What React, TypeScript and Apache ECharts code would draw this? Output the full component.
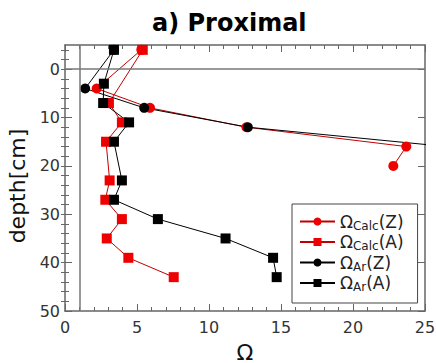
import React, { useEffect, useRef } from "react";
import * as echarts from "echarts";

const depthZ = [-4, 4, 8, 12, 16, 20];
const calcZ = [5.3, 2.2, 5.9, 12.6, 23.7, 22.8];
const arZ = [3.4, 1.4, 5.5, 12.7, 26.5, 26.0];

const depthCalcA = [-4, 7, 11, 15, 23, 27, 31, 35, 39, 43];
const calcA = [5.4, 3.05, 3.95, 2.85, 3.1, 2.8, 3.95, 2.9, 4.4, 7.55];

const depthArA = [-4, 3, 7, 11, 15, 23, 27, 31, 35, 39, 43];
const arA = [3.4, 2.7, 2.65, 4.45, 3.4, 3.95, 3.4, 6.45, 11.15, 14.45, 14.7];

const xTicks = [0, 5, 10, 15, 20, 25];
const yMajorTicks = [0, 10, 20, 30, 40, 50];
const yMinorTicks = [-4, -2, 0, 2, 4, 6, 8, 10, 12, 14, 16, 18, 20, 22, 24, 26, 28, 30, 32, 34, 36, 38, 40, 42, 44, 46, 48];

const names = ["ΩCalc(Z)", "ΩCalc(A)", "ΩAr(Z)", "ΩAr(A)"];

const FONT = "DejaVu Sans";
const FRAME = "#666";

const pairs = (xs: number[], ys: number[]) => xs.map((x, i) => [x, ys[i]]);

export default function App() {
  const ref = useRef<HTMLDivElement>(null);
  useEffect(() => {
    const chart = echarts.init(ref.current!, null, { renderer: "svg" });
    const yBase = {
      type: "value",
      min: -5,
      max: 50,
      inverse: true,
      splitLine: { show: false },
    };
    const xBase = {
      type: "value",
      min: xTicks[0],
      max: xTicks[xTicks.length - 1],
      interval: 5,
      splitLine: { show: false },
      axisLine: { onZero: false, lineStyle: { color: FRAME, width: 1.5 } },
      axisTick: { inside: true, length: 7, lineStyle: { color: FRAME } },
      minorTick: { show: true, splitNumber: 5, length: 4, lineStyle: { color: FRAME } },
    };
    const mk = (name: string, xs: number[], ys: number[], sym: string, color: string, lineColor: string, extra: any = {}) => ({
      type: "line",
      name,
      data: pairs(xs, ys),
      symbol: sym,
      symbolSize: 10,
      itemStyle: { color },
      lineStyle: { color: lineColor, width: 1 },
      clip: true,
      ...extra,
    });
    chart.setOption({
      animation: false,
      backgroundColor: "#fff",
      textStyle: { fontFamily: FONT },
      title: {
        text: "a) Proximal",
        left: 152,
        top: 11,
        padding: 0,
        textStyle: { fontFamily: FONT, fontSize: 24, fontWeight: "bold", color: "#000" },
      },
      grid: { left: 65, right: 11, top: 45, bottom: 52, outerBoundsMode: "none", containLabel: false },
      xAxis: [
        {
          ...xBase,
          position: "bottom",
          name: "Ω",
          nameLocation: "middle",
          nameGap: 31,
          nameTextStyle: { fontFamily: FONT, fontSize: 22, lineHeight: 20, color: "#111" },
          axisLabel: { fontFamily: FONT, fontSize: 16, color: "#333", margin: 8 },
        },
        {
          ...xBase,
          position: "top",
          axisLabel: { show: false },
        },
      ],
      yAxis: [
        {
          ...yBase,
          position: "left",
          name: "depth[cm]",
          nameLocation: "middle",
          nameGap: 32,
          nameTextStyle: { fontFamily: FONT, fontSize: 22, color: "#111", padding: [0, 16, 0, 0] },
          axisLine: { onZero: false, lineStyle: { color: FRAME, width: 1.5 } },
          axisTick: { inside: true, length: 7, customValues: yMajorTicks, lineStyle: { color: FRAME } },
          axisLabel: { customValues: yMajorTicks, fontFamily: FONT, fontSize: 16, color: "#333", margin: 5 },
        },
        {
          ...yBase,
          position: "left",
          axisLine: { show: false },
          axisTick: { inside: true, length: 4, customValues: yMinorTicks, lineStyle: { color: FRAME } },
          axisLabel: { show: false },
        },
        {
          ...yBase,
          position: "right",
          axisLine: { onZero: false, lineStyle: { color: FRAME, width: 1.5 } },
          axisTick: { inside: true, length: 7, customValues: yMajorTicks, lineStyle: { color: FRAME } },
          axisLabel: { show: false },
        },
        {
          ...yBase,
          position: "right",
          axisLine: { show: false },
          axisTick: { inside: true, length: 4, customValues: yMinorTicks, lineStyle: { color: FRAME } },
          axisLabel: { show: false },
        },
      ],
      legend: {
        orient: "vertical",
        left: 292,
        top: 204,
        padding: [9, 14, 10, 7],
        itemGap: 2,
        itemWidth: 35,
        itemHeight: 10,
        backgroundColor: "#fff",
        borderColor: "#444",
        borderWidth: 1,
        borderRadius: 0,
        data: names,
        formatter: (name: string) => {
          const m = name.match(/^Ω(Calc|Ar)(\(.\))$/);
          if (!m) return name;
          return `{a|Ω}{b|${m[1]}}{a|${m[2]}}`;
        },
        textStyle: {
          fontFamily: FONT,
          rich: {
            a: { fontFamily: FONT, fontSize: 17, color: "#222", lineHeight: 20 },
            b: { fontFamily: FONT, fontSize: 12, color: "#222", verticalAlign: "bottom", lineHeight: 14 },
          },
        },
      },
      series: [
        mk(names[0], calcZ, depthZ, "circle", "#ee0000", "#c00000", {
          markLine: {
            silent: true,
            symbol: ["none", "none"],
            label: { show: false },
            lineStyle: { color: "#777", width: 1.5, type: "solid" },
            data: [{ xAxis: 1 }, { yAxis: 0 }],
          },
        }),
        mk(names[1], calcA, depthCalcA, "rect", "#ee0000", "#c00000"),
        mk(names[2], arZ, depthZ, "circle", "#000", "#000"),
        mk(names[3], arA, depthArA, "rect", "#000", "#000"),
      ],
    });
    return () => chart.dispose();
  }, []);
  return <div ref={ref} style={{ position: "fixed", left: 0, top: 0, width: 436, height: 363 }} />;
}
